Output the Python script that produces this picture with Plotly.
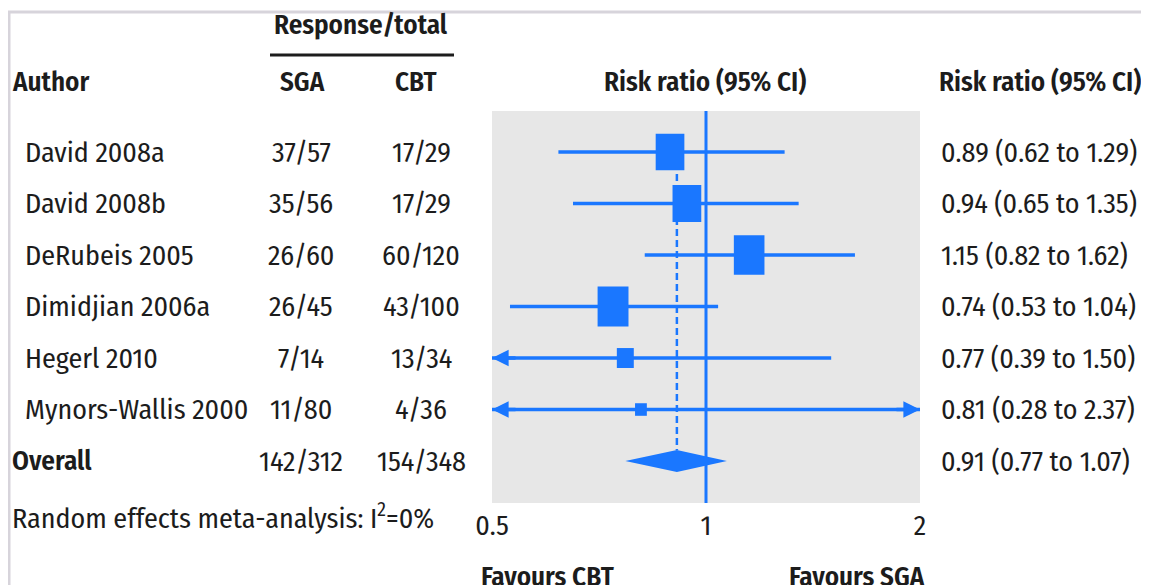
import numpy as np
import plotly.graph_objects as go

# ---------------- data ----------------
authors = ["David 2008a", "David 2008b", "DeRubeis 2005", "Dimidjian 2006a",
           "Hegerl 2010", "Mynors-Wallis 2000"]
sga = ["37/57", "35/56", "26/60", "26/45", "7/14", "11/80"]
cbt = ["17/29", "17/29", "60/120", "43/100", "13/34", "4/36"]
rr = [0.89, 0.94, 1.15, 0.74, 0.77, 0.81]
lo = [0.62, 0.65, 0.82, 0.53, 0.39, 0.28]
hi = [1.29, 1.35, 1.62, 1.04, 1.50, 2.37]

overall_label = "Overall"
overall_sga = "142/312"
overall_cbt = "154/348"
overall_rr = 0.91
overall_lo = 0.77
overall_hi = 1.07

tick_vals = [0.5, 1, 2]
tick_text = ["0.5", "1", "2"]
x_min, x_max = 0.5, 2.0

# ---------------- styling ----------------
OFF = 8  # page body margin
W, H = 1149 - OFF, 585 - OFF
ML, MR, MT, MB = 492 - OFF, 229, 111 - OFF, 82
PW, PH = W - ML - MR, H - MT - MB
BLUE = "#1a77ff"
TXT = "#1c1c1c"
FONT = "Fira Sans Condensed, Roboto Condensed, DejaVu Sans Condensed, sans-serif"
FS = 28
FS_HEAD = 27


def px_x(px):
    return (px - OFF - ML) / PW


def px_y(py):
    return (H - MB - (py - OFF)) / PH


n = len(authors)
rows = list(range(n))
overall_row = n
decade_px = PW / np.log10(x_max / x_min)

se = [(np.log(h) - np.log(l)) / 3.92 for l, h in zip(lo, hi)]
w = np.array([1 / s ** 2 for s in se])
wpct = 100 * w / w.sum()
box_h = 8.0 * np.sqrt(wpct)
box_w = 0.7 * box_h + 3

fig = go.Figure()

diamond_half = 0.215
fig.add_trace(go.Scatter(
    x=[overall_rr, overall_rr], y=[0, overall_row - diamond_half],
    mode="lines", line=dict(color=BLUE, width=2.5, dash="7px,4px"),
    hoverinfo="skip", showlegend=False))

cx, cy = [], []
for i in rows:
    cx += [max(lo[i], x_min), min(hi[i], x_max), None]
    cy += [i, i, None]
fig.add_trace(go.Scatter(x=cx, y=cy, mode="lines",
                         line=dict(color=BLUE, width=3.5),
                         hoverinfo="skip", showlegend=False))

fig.add_trace(go.Scatter(
    x=[overall_lo, overall_rr, overall_hi, overall_rr, overall_lo],
    y=[overall_row, overall_row - diamond_half, overall_row,
       overall_row + diamond_half, overall_row],
    mode="lines", fill="toself", fillcolor=BLUE,
    line=dict(color=BLUE, width=0), hoverinfo="skip", showlegend=False))

shapes = []
shapes.append(dict(type="line", xref="x", yref="paper", x0=1, x1=1, y0=0, y1=1,
                   line=dict(color=BLUE, width=3), layer="below"))
for i in rows:
    f = 10 ** (box_w[i] / 2 / decade_px)
    shapes.append(dict(type="rect", xref="x", yref="y",
                       x0=rr[i] / f, x1=rr[i] * f,
                       ysizemode="pixel", yanchor=i,
                       y0=-box_h[i] / 2, y1=box_h[i] / 2,
                       fillcolor=BLUE, line=dict(width=0), layer="above"))
shapes.append(dict(type="line", xref="paper", yref="paper",
                   x0=px_x(270), x1=px_x(454), y0=px_y(55), y1=px_y(55),
                   line=dict(color=TXT, width=3)))
shapes.append(dict(type="rect", xref="paper", yref="paper",
                   x0=px_x(9), x1=px_x(1143), y0=px_y(640), y1=px_y(12),
                   line=dict(color="#d7d4db", width=3), fillcolor="rgba(0,0,0,0)",
                   layer="below"))

ann = []


def txt(text, x, y, xanchor="left", yref="y", bold=False, size=FS):
    ann.append(dict(text=text, x=x, y=y, xref="paper", yref=yref,
                    xanchor=xanchor, yanchor="middle", showarrow=False,
                    font=dict(family=FONT, size=size, color=TXT,
                              weight=600 if bold else 400)))


for i in rows:
    txt(authors[i], px_x(23), i)
    txt(sga[i], px_x(301), i, "center")
    txt(cbt[i], px_x(421), i, "center")
    txt(f"{rr[i]:.2f} ({lo[i]:.2f} to {hi[i]:.2f})", px_x(939), i)

txt(overall_label, px_x(10), overall_row, bold=True, size=FS_HEAD)
txt(overall_sga, px_x(301), overall_row, "center")
txt(overall_cbt, px_x(421), overall_row, "center")
txt(f"{overall_rr:.2f} ({overall_lo:.2f} to {overall_hi:.2f})", px_x(939), overall_row)

txt("Response/total", px_x(361), px_y(25), "center", "paper", True, FS_HEAD)
txt("Author", px_x(10), px_y(82), "left", "paper", True, FS_HEAD)
txt("SGA", px_x(302), px_y(82), "center", "paper", True, FS_HEAD)
txt("CBT", px_x(416), px_y(82), "center", "paper", True, FS_HEAD)
txt("Risk ratio (95% CI)", px_x(705), px_y(82), "center", "paper", True, FS_HEAD)
txt("Risk ratio (95% CI)", px_x(937), px_y(82), "left", "paper", True, FS_HEAD)
txt("Random effects meta-analysis: I<sup>2</sup>=0%", px_x(10), px_y(516), "left", "paper")
txt("Favours CBT", px_x(479), px_y(577), "left", "paper", True, FS_HEAD)
txt("Favours SGA", px_x(927), px_y(577), "right", "paper", True, FS_HEAD)

for i in rows:
    if lo[i] < x_min:
        ann.append(dict(x=np.log10(x_min), y=i, xref="x", yref="y", text="",
                        showarrow=True, ax=25, ay=0, arrowhead=2, arrowsize=0.95,
                        arrowwidth=3.5, arrowcolor=BLUE, standoff=0))
    if hi[i] > x_max:
        ann.append(dict(x=np.log10(x_max), y=i, xref="x", yref="y", text="",
                        showarrow=True, ax=-25, ay=0, arrowhead=2, arrowsize=0.95,
                        arrowwidth=3.5, arrowcolor=BLUE, standoff=0))

fig.update_layout(
    width=W, height=H,
    margin=dict(l=ML, r=MR, t=MT, b=MB, pad=0),
    paper_bgcolor="white", plot_bgcolor="#e7e7e7",
    showlegend=False,
    shapes=shapes, annotations=ann,
    xaxis=dict(type="log", range=[np.log10(x_min), np.log10(x_max)],
               tickvals=tick_vals, ticktext=tick_text, showgrid=False,
               zeroline=False, showline=False, ticks="",
               ticklabelstandoff=3,
               tickfont=dict(family=FONT, size=FS, color=TXT),
               fixedrange=True),
    yaxis=dict(range=[overall_row + 0.815, -0.796], showgrid=False,
               zeroline=False, showline=False, showticklabels=False,
               ticks="", fixedrange=True),
)

fig.write_html("out.html")
